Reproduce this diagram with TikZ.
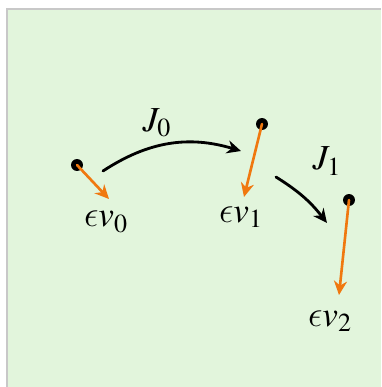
\documentclass[tikz,border=0pt]{standalone}
\usepackage{amsmath}
\usepackage{mathptmx}
\usepackage{tikz}
\usetikzlibrary{arrows.meta}
\DeclareSymbolFont{cmletters}{OML}{cmm}{m}{it}
\DeclareMathSymbol{\lunateeps}{\mathord}{cmletters}{"0F}
\definecolor{panelgreen}{RGB}{226,245,220}
\definecolor{panelgray}{RGB}{200,200,200}
\definecolor{vorange}{RGB}{240,120,15}
\tikzset{
  every picture/.style={line join=round, line cap=round, >=Stealth},
  pt/.style={circle, fill=black, inner sep=0pt, minimum size=6.8pt},
  vel/.style={-{Stealth[length=8pt,width=7.5pt]}, vorange, line width=1.5pt},
  jump/.style={-{Stealth[length=8pt,width=7.5pt]}, black, line width=1.6pt},
  lbl/.style={font=\fontsize{20}{24}\selectfont, inner sep=1pt},
}

\begin{document}
\begin{tikzpicture}[x=0.2mm,y=-0.2mm]
\useasboundingbox (0,0) rectangle (381,387);
\fill[panelgray] (6,8) rectangle (381,387);
\fill[panelgreen] (8,10) rectangle (381,387);
% points
\node[pt] (p0) at (77,165) {};
\node[pt] (p1) at (262,124) {};
\node[pt] (p2) at (349,200) {};
% velocities
\coordinate (v0) at (109,199);
\coordinate (v1) at (244,197);
\coordinate (v2) at (339,295);
\draw[vel] (p0.center)--(v0);
\draw[vel] (p1.center)--(v1);
\draw[vel] (p2.center)--(v2);
\node[lbl] (l0) at (106,222) {$\lunateeps v_0$};
\node[lbl] (l1) at (241,217) {$\lunateeps v_1$};
\node[lbl] (l2) at (330,321) {$\lunateeps v_2$};
% jumps
\coordinate (a0) at (103,171);
\coordinate (b0) at (241,151);
\coordinate (a1) at (276,177);
\coordinate (b1) at (327,223);
\draw[jump] (a0) to[bend left=25] (b0);
\draw[jump] (a1) to[bend left=10] (b1);
\node[lbl] (j0) at (157,123) {$J_0$};
\node[lbl] (j1) at (327,161) {$J_1$};
\end{tikzpicture}
\end{document}
